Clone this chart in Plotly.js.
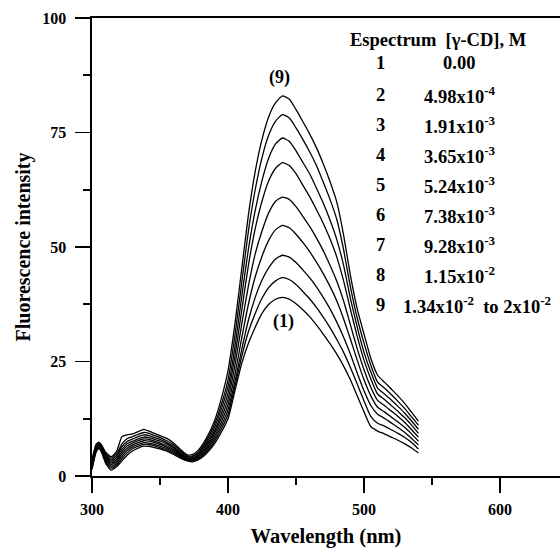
<!DOCTYPE html>
<html>
<head>
<meta charset="utf-8">
<script src="https://cdn.plot.ly/plotly-3.0.1.min.js"></script>
<style>html,body{margin:0;padding:0;background:#fff;}#chart{width:560px;height:549px;}</style>
</head>
<body>
<div id="chart"></div>
<script>
// Wavelength grid (nm)
const wavelength = [300,303,305,307,310,314,318,322,326,330,334,338,342,346,350,355,360,365,370,374,378,382,386,390,395,400,
  405,410,415,420,425,430,435,440,445,450,455,460,465,470,475,480,485,490,495,500,505,510,515,520,525,530,535,540];

// Fluorescence intensity, spectra 1..9
const spec1 = [1.4,5.2,6.0,5.2,2.8,1.3,2.0,3.3,4.6,5.5,6.1,6.5,6.5,6.2,5.9,5.4,4.7,3.9,3.3,3.1,3.5,4.3,5.5,7.0,9.5,12.5,
  18.5,24.5,29,32.5,35.5,37.5,38.6,39,38.6,37.6,36.3,34.8,33,31,28.9,26.6,24,21,17.5,14,10.8,9.8,9.2,8.5,7.8,7,6.1,5];
const spec2 = [1.7,5.4,6.2,5.4,3.1,1.7,2.4,3.8,5.1,6.0,6.5,6.9,6.9,6.6,6.2,5.7,4.9,4.1,3.4,3.3,3.7,4.6,5.9,7.5,10.2,13.5,
  19.5,26,31.5,35.5,38.8,41.2,42.6,43.3,42.9,41.8,40.3,38.7,36.8,34.7,32.4,29.8,27,23.7,20.1,16.4,13,11.5,10.9,10.1,9.3,8.4,7.3,5.9];
const spec3 = [2.0,5.6,6.4,5.6,3.4,2.1,2.8,4.3,5.6,6.4,6.9,7.3,7.2,6.9,6.5,6.0,5.2,4.3,3.6,3.4,3.9,4.9,6.3,8.0,10.9,14.5,
  20.5,27.5,34,39,42.8,45.5,47.4,48.2,47.8,46.6,45,43.3,41.3,39,36.5,33.6,30.3,26.6,22.5,18.6,15.4,13.5,12.6,11.6,10.6,9.5,8.2,6.8];
const spec4 = [2.3,5.8,6.6,5.8,3.7,2.5,3.2,4.8,6.1,6.8,7.3,7.7,7.6,7.3,6.9,6.3,5.5,4.5,3.7,3.6,4.1,5.2,6.7,8.6,11.7,15.6,
  22,30,37.5,43.5,48,51.5,53.8,54.7,54.2,52.8,51,49,46.7,44.2,41.4,38.2,34.3,29.9,25.3,21,17.5,15,14,12.9,11.8,10.6,9.2,7.6];
const spec5 = [2.6,6.0,6.8,6.0,4.0,2.8,3.6,5.3,6.6,7.2,7.7,8.1,8.0,7.6,7.2,6.6,5.8,4.7,3.9,3.8,4.4,5.5,7.1,9.2,12.6,16.8,
  24,33,41.5,48.5,53.5,57.5,60,60.9,60.4,58.8,56.7,54.5,52,49.2,46,42.5,38.2,33,27.8,23.2,19.4,16.5,15.4,14.2,13,11.7,10.1,8.5];
const spec6 = [2.9,6.2,6.9,6.2,4.3,3.2,4.0,5.8,7.1,7.6,8.1,8.5,8.4,8.0,7.6,7.0,6.1,4.9,4.0,4.0,4.6,5.9,7.6,9.8,13.5,18.1,
  26,36,46,54,60,64.5,67.2,68.4,67.8,66,63.5,61,58.2,55.2,51.8,47.8,42.6,36.4,30.5,25.3,21.2,17.9,16.7,15.4,14.1,12.7,11.1,9.3];
const spec7 = [3.1,6.4,7.0,6.4,4.6,3.5,4.4,6.4,7.6,8.1,8.6,9.0,8.8,8.4,8.0,7.3,6.4,5.2,4.2,4.2,4.9,6.3,8.1,10.5,14.5,19.5,
  28,39,49.5,58,64.5,69.5,72.5,73.8,73.1,71,68.5,66,62.9,59.6,55.9,51.6,46,38.8,32.5,27,22.7,19.2,17.9,16.6,15.2,13.7,12,10.2];
const spec8 = [3.3,6.6,7.2,6.6,4.9,3.9,4.8,7.0,8.2,8.6,9.1,9.5,9.3,8.8,8.4,7.7,6.8,5.5,4.4,4.4,5.2,6.7,8.7,11.2,15.5,21.0,
  30.5,42,53.5,62.5,69.5,74.5,77.5,78.9,78.2,76,73.5,70.8,67.8,64.2,60.4,56,49.4,41.3,34.5,29,24.2,20.5,19.2,17.8,16.3,14.7,12.9,11.1];
const spec9 = [3.6,6.9,7.4,6.8,5.2,4.2,5.3,8.6,9.0,9.2,9.7,10.2,9.8,9.3,8.8,8.2,7.2,5.8,4.6,4.7,5.6,7.2,9.3,12.0,16.8,23.0,
  33,45,57,66.5,73.5,78.5,81.5,83,82.3,80,77.4,74.7,71.7,68.2,64.3,59.8,52.6,43.8,36.5,31,25.7,22,20.5,19,17.5,15.8,13.9,12];
const spectra = [spec1,spec2,spec3,spec4,spec5,spec6,spec7,spec8,spec9];

// Legend table
const specNumbers = ['1','2','3','4','5','6','7','8','9'];
const concentrations = ['0.00','4.98x10<sup>-4</sup>','1.91x10<sup>-3</sup>','3.65x10<sup>-3</sup>','5.24x10<sup>-3</sup>',
  '7.38x10<sup>-3</sup>','9.28x10<sup>-3</sup>','1.15x10<sup>-2</sup>','1.34x10<sup>-2</sup>  to 2x10<sup>-2</sup>'];
const xTickVals = [300,400,500,600];
const yTickVals = [0,25,50,75,100];

const FONT = 'Liberation Serif, Times New Roman, serif';
const traces = spectra.map(s => ({
  x: wavelength, y: s, type: 'scatter', mode: 'lines',
  line: {color: '#000', width: 1.3, shape: 'spline', smoothing: 0.5}, hoverinfo: 'skip', showlegend: false
}));

// plot area in pixels: left 92, right 560, top 18, bottom 476
const px = v => (v - 92) / 468;
const py = v => (476 - v) / 458;
const rowY = [63,95,125,155,185,215,245,275,305];
const annFont = {family: FONT, size: 18.5, color: '#000', weight: 'bold'};
const annotations = [];
annotations.push({xref:'paper', yref:'paper', x: px(438), y: py(40), text: 'Espectrum  [γ-CD], M',
  showarrow:false, xanchor:'center', yanchor:'middle', font: annFont});
specNumbers.forEach((n, i) => {
  annotations.push({xref:'paper', yref:'paper', x: px(380), y: py(rowY[i]), text: n,
    showarrow:false, xanchor:'center', yanchor:'middle', font: annFont});
  if (i < 8) {
    annotations.push({xref:'paper', yref:'paper', x: px(459), y: py(rowY[i]), text: concentrations[i],
      showarrow:false, xanchor:'center', yanchor:'middle', font: annFont});
  } else {
    annotations.push({xref:'paper', yref:'paper', x: px(401), y: py(rowY[i]), text: concentrations[i],
      showarrow:false, xanchor:'left', yanchor:'middle', font: annFont});
  }
});
annotations.push({xref:'x', yref:'y', x: 438, y: 87, text: '(9)', showarrow:false, font: {family: FONT, size: 18, color:'#000', weight:'bold'}});
annotations.push({xref:'x', yref:'y', x: 441, y: 33.8, text: '(1)', showarrow:false, font: {family: FONT, size: 18, color:'#000', weight:'bold'}});

const layout = {
  width: 560, height: 549,
  margin: {l: 92, r: 0, t: 18, b: 73, pad: 0},
  paper_bgcolor: '#fff', plot_bgcolor: '#fff',
  showlegend: false,
  font: {family: FONT, color: '#000'},
  xaxis: {
    range: [300, 644.1], showgrid: false, zeroline: false,
    showline: true, linecolor: '#000', linewidth: 1.6, mirror: true,
    ticks: 'outside', ticklen: 15, tickwidth: 1.6, tickcolor: '#000',
    tickmode: 'array', tickvals: xTickVals, ticktext: xTickVals.map(String),
    minor: {dtick: 50, tick0: 300, ticks: 'outside', ticklen: 7, tickwidth: 1.6, tickcolor: '#000'},
    tickfont: {family: FONT, size: 16, color: '#000', weight: 'bold'},
    ticklabelstandoff: 3,
    title: {text: 'Wavelength (nm)', font: {family: FONT, size: 20.5, color: '#000', weight: 'bold'}, standoff: 12}
  },
  yaxis: {
    range: [0, 100], showgrid: false, zeroline: false,
    showline: true, linecolor: '#000', linewidth: 1.6, mirror: false,
    ticks: 'outside', ticklen: 15, tickwidth: 1.6, tickcolor: '#000',
    tickmode: 'array', tickvals: yTickVals, ticktext: yTickVals.map(String),
    minor: {dtick: 12.5, tick0: 0, ticks: 'outside', ticklen: 7, tickwidth: 1.6, tickcolor: '#000'},
    tickfont: {family: FONT, size: 16, color: '#000', weight: 'bold'},
    ticklabelstandoff: 6,
    title: {text: 'Fluorescence intensity', font: {family: FONT, size: 20, color: '#000', weight: 'bold'}, standoff: 6}
  },
  annotations: annotations
};

Plotly.newPlot('chart', traces, layout, {displayModeBar: false, staticPlot: true});
</script>
</body>
</html>
